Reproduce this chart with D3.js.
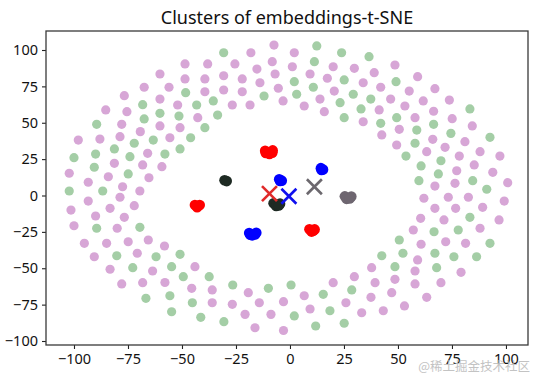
<!DOCTYPE html>
<html>
<head>
<meta charset="utf-8">
<script src="https://cdn.jsdelivr.net/npm/d3@7"></script>
<style>
  body { margin: 0; background: #fff; }
  svg { display: block; font-family: "Noto Sans", "Open Sans", sans-serif; }
</style>
</head>
<body>
<div id="chart"></div>
<script>
// outer ring points (two colours)
const pinkPoints = [
  [-60.2,83.5],[-67.5,74.4],[-76.7,68.6],[-60.2,66.3],[-85.3,58.8],[-75.5,57.6],[-77.9,48.9],[-60.2,47.8],
  [-69.3,43.9],[-98.0,38.1],[-88.0,38.8],[-78.7,40.4],[-65.9,29.0],[-81.3,22.1],[-68.2,21.0],[-59.3,19.8],
  [-102.2,15.3],[-84.1,12.9],[-65.3,12.2],[-93.4,9.1],
  [-7.4,103.4],[-18.1,98.1],[-48.6,90.4],[-38.1,90.4],[-25.5,90.4],[-8.2,92.0],[-15.3,86.9],[-6.9,83.5],
  [-48.6,80.1],[-39.4,80.1],[-30.7,82.3],[-22.1,80.1],[-13.9,77.5],[-56.0,74.4],[-5.4,73.7],[-39.4,71.3],
  [-30.7,72.5],[-22.1,71.3],[-3.2,65.0],[-52.0,62.2],[-26.7,62.2],[-18.5,62.2],[-42.7,53.5],[-50.9,46.6],
  [-55.6,39.7],
  [2.0,98.1],[1.1,88.5],[20.0,88.5],[29.8,87.4],[48.6,89.7],[9.3,83.5],[17.3,80.6],[39.0,84.4],[33.9,77.5],
  [42.0,74.4],[20.5,71.8],[13.9,66.3],[46.6,66.3],[6.6,61.5],[53.2,61.5],[15.9,57.6],[41.3,58.8],[33.9,50.7],
  [50.6,45.5],[42.5,41.6],[49.4,34.7],
  [59.1,81.7],[55.2,71.8],[67.1,73.4],[61.7,65.0],[73.8,65.6],[66.5,57.9],[57.9,53.5],[75.1,52.8],[84.4,47.8],
  [66.1,38.6],[81.0,37.0],[71.8,33.1],[63.3,30.1],[88.0,30.1],[78.4,27.1],[97.2,27.1],[85.3,21.0],[77.2,17.0],
  [93.9,15.9],[76.4,8.4],[100.8,8.8],[67.1,6.5],
  [62.0,-1.9],[73.3,-1.2],[82.6,-1.2],[99.2,-3.8],[67.1,-8.8],[76.7,-8.8],[89.2,-8.1],[60.5,-15.7],[71.3,-16.8],
  [96.8,-16.8],[57.1,-23.7],[88.0,-22.5],[60.7,-33.5],[72.1,-31.8],[81.3,-32.9],[59.1,-44.3],[57.9,-51.9],
  [79.2,-52.8],[57.9,-60.8],[69.9,-59.9],[63.3,-70.0],[53.0,-75.9],
  [37.8,-49.6],[29.8,-55.8],[39.4,-59.9],[48.6,-57.6],[20.0,-59.9],[6.6,-68.9],[37.5,-70.0],[47.1,-66.8],
  [9.3,-78.0],[25.9,-73.7],[33.2,-80.6],[43.2,-79.2],
  [-44.0,-48.9],[-57.9,-59.8],[-45.5,-63.8],[-36.0,-64.9],[-19.3,-66.8],[-36.0,-73.7],[-26.7,-74.8],
  [-14.2,-73.7],[-3.0,-73.0],[-20.8,-81.7],[-8.8,-81.7],[-16.2,-90.9],[-3.0,-92.8],
  [-77.5,6.0],[-69.5,3.1],[-93.4,-3.8],[-78.7,-1.2],[-101.4,-10.0],[-83.3,-8.8],[-72.1,-7.0],[-90.0,-14.1],
  [-76.7,-15.0],[-100.0,-20.8],[-80.0,-22.5],[-95.2,-32.9],[-84.9,-32.9],[-74.9,-31.8],[-65.6,-30.6],
  [-58.1,-34.7],[-90.6,-42.1],[-70.7,-39.7],[-83.3,-50.7],[-63.6,-51.9],[-77.9,-60.8],[-68.2,-59.9]
];

const greenPoints = [
  [-68.2,62.4],[-67.5,52.6],[-60.2,56.5],[-89.5,48.9],[-63.3,38.1],[-81.3,32.0],[-72.1,35.9],[-100.0,26.0],
  [-90.0,28.5],[-57.9,28.5],[-90.6,19.4],[-74.1,26.7],[-74.9,14.8],
  [-30.7,98.1],[-48.3,70.7],[-12.0,68.4],[-43.2,62.2],[-35.5,65.0],[-51.4,54.6],[-33.5,55.3],[-39.4,46.6],
  [-46.0,39.7],[-50.9,32.0],
  [12.4,102.8],[23.9,98.1],[36.6,95.4],[11.3,92.0],[25.1,79.4],[2.0,78.2],[49.1,78.2],[10.8,74.4],[3.1,69.6],
  [29.3,69.6],[37.4,66.3],[23.2,63.8],[32.9,59.5],[25.1,53.5],[42.0,49.6],[49.4,53.5],[53.7,27.1],
  [83.3,59.5],[66.5,48.9],[58.7,45.0],[74.5,42.7],[92.6,40.0],[57.9,35.9],[69.9,23.9],[60.7,20.3],[68.7,14.8],
  [59.7,10.2],[84.6,10.2],[91.1,4.3],
  [83.3,-15.0],[66.7,-24.9],[77.9,-23.7],[92.6,-32.9],[52.3,-39.7],[67.1,-39.7],[75.9,-42.1],[86.4,-42.1],
  [67.9,-49.6],
  [50.6,-30.6],[42.5,-41.4],[48.6,-48.9],[0.5,-61.5],[28.6,-64.9],[15.4,-67.9],[18.5,-79.2],[2.0,-82.8],
  [11.9,-89.7],[25.1,-87.8],
  [-50.9,-40.4],[-54.8,-48.9],[-49.4,-55.8],[-37.4,-55.8],[-26.5,-61.5],[-10.0,-63.8],[-55.6,-68.9],
  [-45.2,-73.7],[-54.8,-79.9],[-41.3,-83.7],[-30.6,-86.7],
  [-102.2,3.1],[-86.7,3.1],[-89.5,-22.5],[-69.5,-21.9],[-80.2,-41.4],[-62.0,-42.1],[-72.8,-49.6],[-66.7,-70.7]
];

// collapsed clusters in the middle
const redPoints = [
  [-11.5,30.8],[-8.0,31.0],[-9.5,28.6],[-11.2,29.2],[-8.2,29.4],
  [-44.0,-6.5],[-41.8,-6.6],[-43.0,-8.0],[-42.5,-7.2],
  [9.0,-23.2],[11.4,-23.3],[10.0,-24.8],[10.8,-24.2]
];
const bluePoints = [
  [-5.0,11.2],[-3.8,10.2],[-4.6,10.0],
  [14.3,18.8],[15.3,17.8],[14.6,17.6],
  [-18.9,-25.8],[-15.6,-25.6],[-17.5,-27.4],[-16.2,-26.8],[-18.4,-27.0]
];
const darkPoints = [
  [-30.3,10.5],[-29.3,9.9],
  [-7.6,-5.4],[-4.6,-5.6],[-6.4,-7.2],[-5.2,-6.8]
];
const grayPoints = [
  [25.4,-0.6],[28.4,-0.7],[26.2,-2.3],[27.6,-2.1]
];

// cluster centres (x markers)
const centroidNames = ['red', 'blue', 'gray'];
const centroidX = [-9.5, -0.5, 11.3];
const centroidY = [1.3, -0.5, 6.0];

const xTicks = [-100, -75, -50, -25, 0, 25, 50, 75, 100];
const yTicks = [-100, -75, -50, -25, 0, 25, 50, 75, 100];

class ClusterPlot {
  constructor(_config) {
    this.config = {
      parentElement: _config.parentElement,
      containerWidth: 535,
      containerHeight: 376,
      margin: {top: 31, right: 7, bottom: 31, left: 46},
      xDomain: [-112.96, 110.2],
      yDomain: [-102.75, 113.06]
    };
    this.initVis();
  }

  initVis() {
    let vis = this;

    vis.width = vis.config.containerWidth - vis.config.margin.left - vis.config.margin.right;
    vis.height = vis.config.containerHeight - vis.config.margin.top - vis.config.margin.bottom;

    vis.svg = d3.select(vis.config.parentElement).append('svg')
      .attr('width', vis.config.containerWidth)
      .attr('height', vis.config.containerHeight);

    vis.svg.append('rect')
      .attr('width', vis.config.containerWidth)
      .attr('height', vis.config.containerHeight)
      .attr('fill', '#fff');

    vis.xScale = d3.scaleLinear().domain(vis.config.xDomain).range([0, vis.width]);
    vis.yScale = d3.scaleLinear().domain(vis.config.yDomain).range([vis.height, 0]);

    vis.chart = vis.svg.append('g')
      .attr('transform', `translate(${vis.config.margin.left},${vis.config.margin.top})`);

    vis.renderVis();
  }

  renderVis() {
    let vis = this;
    const fmt = d => d < 0 ? '\u2212' + Math.abs(d) : String(d);

    // ring points
    const dots = (data, color, r) => {
      vis.chart.append('g')
        .selectAll('circle')
        .data(data)
        .join('circle')
        .attr('cx', d => vis.xScale(d[0]))
        .attr('cy', d => vis.yScale(d[1]))
        .attr('r', r)
        .attr('fill', color);
    };
    dots(pinkPoints, '#d7a6d6', 4.6);
    dots(greenPoints, '#a4cea6', 4.6);
    dots(darkPoints, '#1e2a23', 5.3);
    dots(grayPoints, '#6e6670', 5.3);
    dots(redPoints, '#ff0000', 5.3);
    dots(bluePoints, '#0000ff', 5.3);

    // centroids
    const markerColors = {red: '#e02a2a', blue: '#1010ee', gray: '#6c686e'};
    vis.chart.append('g')
      .selectAll('path')
      .data(centroidNames)
      .join('path')
      .attr('transform', (d, i) => `translate(${vis.xScale(centroidX[i])},${vis.yScale(centroidY[i])})`)
      .attr('d', d3.symbol(d3.symbolX).size(148))
      .attr('fill', 'none')
      .attr('stroke', d => markerColors[d])
      .attr('stroke-width', 2.6);

    // axes
    const xAxis = d3.axisBottom(vis.xScale).tickValues(xTicks).tickSize(4).tickPadding(5).tickFormat(fmt);
    const yAxis = d3.axisLeft(vis.yScale).tickValues(yTicks).tickSize(4).tickPadding(4).tickFormat(fmt);

    const xg = vis.chart.append('g')
      .attr('transform', `translate(0,${vis.height})`)
      .call(xAxis);
    const yg = vis.chart.append('g').call(yAxis);

    [xg, yg].forEach(g => {
      g.select('.domain').remove();
      g.selectAll('line').attr('stroke', '#222').attr('stroke-width', 1.1);
      g.selectAll('text')
        .attr('fill', '#111')
        .style('font-size', '14.5px')
        .style('font-family', '"Noto Sans", "Open Sans", sans-serif');
    });

    vis.chart.append('rect')
      .attr('width', vis.width)
      .attr('height', vis.height)
      .attr('fill', 'none')
      .attr('stroke', '#3a3a3a')
      .attr('stroke-width', 1.3);

    // title
    vis.svg.append('text')
      .attr('x', vis.config.margin.left + vis.width / 2)
      .attr('y', 24)
      .attr('text-anchor', 'middle')
      .attr('fill', '#111')
      .style('font-size', '18px')
      .text('Clusters of embeddings-t-SNE');

    // watermark
    vis.svg.append('text')
      .attr('x', 530)
      .attr('y', 371)
      .attr('text-anchor', 'end')
      .attr('fill', '#bdbdbd')
      .attr('opacity', 0.9)
      .style('font-size', '12.5px')
      .style('font-family', '"Noto Sans CJK SC", sans-serif')
      .text('@稀土掘金技术社区');
  }
}

new ClusterPlot({parentElement: '#chart'});
</script>
</body>
</html>
